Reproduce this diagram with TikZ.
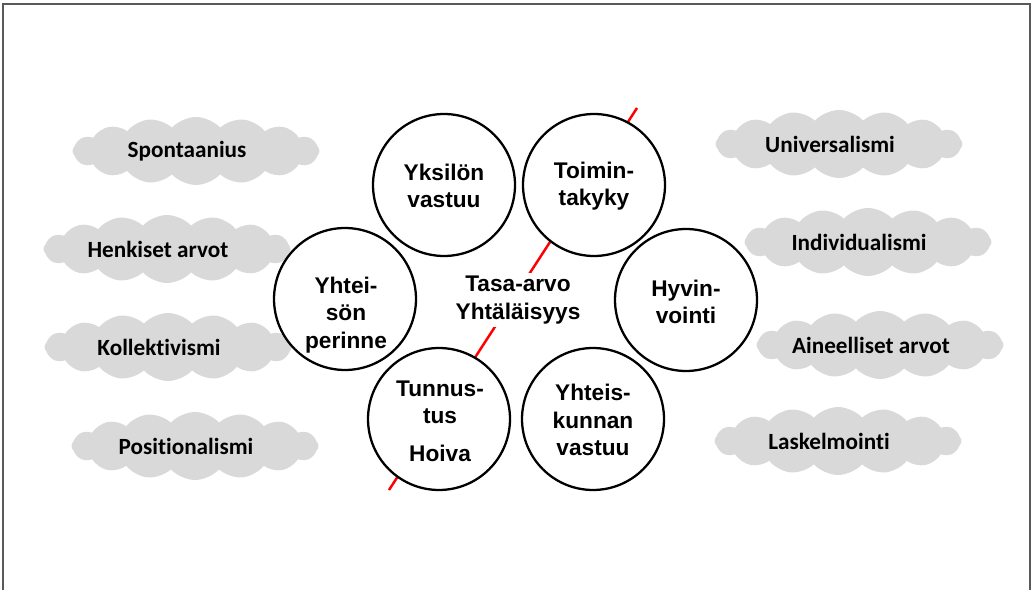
\documentclass[tikz,border=0pt]{standalone}
\usepackage{fontspec}
\setmainfont{Liberation Sans}
\newfontfamily\pilvifont[Ligatures=NoCommon]{Carlito}
\usepackage{tikz}
\usetikzlibrary{shapes.symbols}

\tikzset{
    ympyra/.style={draw, circle, line width=1.3pt, fill=white, minimum size=2.84cm, inner sep=0pt},
    teksti/.style={align=center, font=\bfseries\fontsize{12.9}{15.6}\selectfont},
    pilvi/.style={cloud, cloud puffs=16, cloud puff arc=95, cloud ignores aspect, fill=black!15,
        minimum width=4.94cm, minimum height=1.36cm, inner sep=0pt,
        font=\pilvifont\bfseries\fontsize{13.2}{15}\selectfont,
        execute at end node=\hspace*{0.36cm}}
}

\begin{document}
\begin{tikzpicture}[x=0.02cm, y=-0.02cm]
    \useasboundingbox (0,0) rectangle (1033,590);
    % kehys
    \draw[black!65, line width=1pt] (3,590) -- (3,4) -- (1030,4) -- (1030,590);

    % punainen viiva
    \coordinate (viivaA) at (637,108);
    \coordinate (viivaB) at (389,490);
    \draw[red, line width=1.4pt] (viivaA) -- (viivaB);

    % pilvet vasemmalla
    \node[pilvi] (spont) at (196,151) {Spontaanius};
    \node[pilvi] (henk) at (167,249) {Henkiset arvot};
    \node[pilvi] (koll) at (168,347) {Kollektivismi};
    \node[pilvi] (posit) at (195,446) {Positionalismi};

    % pilvet oikealla
    \node[pilvi] (univ) at (839,144) {Universalismi};
    \node[pilvi] (indiv) at (868,242) {Individualismi};
    \node[pilvi] (aine) at (880,345) {Aineelliset arvot};
    \node[pilvi] (laskel) at (838,441) {Laskelmointi};

    % ympyrat
    \node[ympyra] (yksilo) at (444,185) {};
    \node[ympyra] (toiminta) at (594,185) {};
    \node[ympyra] (perinne) at (345,299) {};
    \node[ympyra] (hyvin) at (686,300) {};
    \node[ympyra] (tunnus) at (439,419) {};
    \node[ympyra] (yhteis) at (593,419) {};

    \node[teksti] (yksiloT) at (444,186) {Yksilön\\vastuu};
    \node[teksti] (toimintaT) at (594,186) {Toimin-\\takyky};
    \node[teksti] (perinneT) at (346,315) {Yhtei-\\sön\\perinne};
    \node[teksti] (hyvinT) at (686,302) {Hyvin-\\vointi};
    \node[teksti] (tunnusT) at (440,421) {Tunnus-\\tus\\[6pt]Hoiva};
    \node[teksti] (yhteisT) at (593,420) {Yhteis-\\kunnan\\vastuu};

    % keskella
    \node[teksti, fill=white, inner sep=2pt] (tasa) at (518,300) {Tasa-arvo\\Yhtäläisyys};
\end{tikzpicture}
\end{document}
